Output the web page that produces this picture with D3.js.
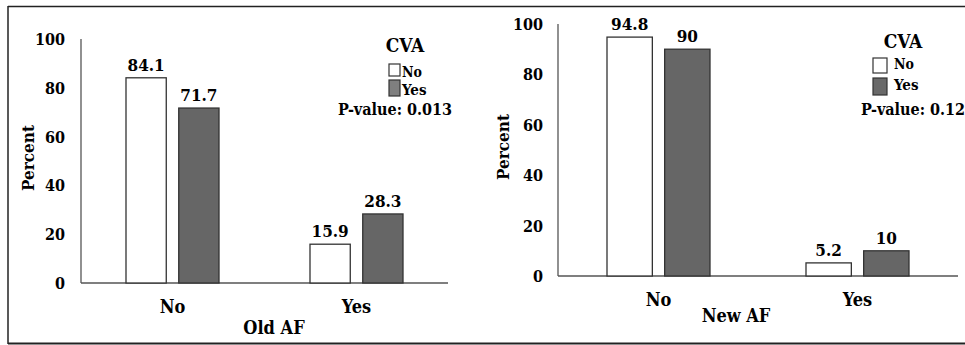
<!DOCTYPE html>
<html><head><meta charset="utf-8">
<script src="https://cdn.jsdelivr.net/npm/d3@7"></script>
<style>body{margin:0;background:#fff}svg{display:block}</style>
</head><body>
<script>
const categories = ["No", "Yes"];
const series = ["No", "Yes"];
const oldAF_no = [84.1, 15.9];
const oldAF_yes = [71.7, 28.3];
const newAF_no = [94.8, 5.2];
const newAF_yes = [90, 10];
const yTicks = [0, 20, 40, 60, 80, 100];
const titles = ["Old AF", "New AF"];
const pvalues = ["P-value: 0.013", "P-value: 0.12"];

const W = 965, H = 345;
const svg = d3.select("body").append("svg").attr("width", W).attr("height", H)
  .style("font-family", "'DejaVu Serif Condensed', 'DejaVu Serif', serif")
  .style("font-weight", "bold");

svg.append("line").attr("x1", 8).attr("x2", W).attr("y1", 6.5).attr("y2", 6.5).attr("stroke", "#222").attr("stroke-width", 1.5);
svg.append("line").attr("x1", 8).attr("x2", W).attr("y1", 343.5).attr("y2", 343.5).attr("stroke", "#222").attr("stroke-width", 2);
svg.append("line").attr("x1", 8).attr("x2", 8).attr("y1", 6).attr("y2", 344).attr("stroke", "#222").attr("stroke-width", 1.5);

const panels = [
  {no: oldAF_no, yes: oldAF_yes, x0: 81, x1: 448, y0: 283, y1: 39, band: [126, 403], bw: 41, gap: 11, tickX: 65, percentX: 34,
   catY: 313, titleY: 334, titleX: 274, cvaX: 405, cvaY: 52, boxX: 389, boxW: 11, box1Y: 64, box1H: 12, box2Y: 80, box2H: 16,
   legTextX: 402, leg1Y: 77, leg2Y: 95, legFont: 14, pX: 395, pY: 115, legGrey: "#7f7f7f"},
  {no: newAF_no, yes: newAF_yes, x0: 558, x1: 958, y0: 276, y1: 24, band: [607, 909], bw: 46, gap: 11, tickX: 543, percentX: 509,
   catY: 306, titleY: 322, titleX: 736, cvaX: 903, cvaY: 48, boxX: 873, boxW: 14, box1Y: 58, box1H: 15, box2Y: 78, box2H: 17,
   legTextX: 894, leg1Y: 69, leg2Y: 90, legFont: 14, pX: 913, pY: 115, legGrey: "#696969"}
];

panels.forEach((p, i) => {
  const g = svg.append("g");
  const y = d3.scaleLinear().domain([0, 100]).range([p.y0, p.y1]);
  const groupSpan = 2 * p.bw + p.gap;
  const xg = d3.scalePoint().domain(categories).range([p.band[0], p.band[1] - groupSpan]);
  const xsub = d3.scaleBand().domain(series).range([0, groupSpan]).paddingInner(p.gap / (groupSpan / 2)).paddingOuter(0);

  g.append("line").attr("x1", p.x0).attr("x2", p.x0).attr("y1", p.y1).attr("y2", p.y0).attr("stroke", "#555").attr("stroke-width", 1.3);
  g.append("line").attr("x1", p.x0).attr("x2", p.x1).attr("y1", p.y0).attr("y2", p.y0).attr("stroke", "#555").attr("stroke-width", 1.3);
  g.selectAll(".tick").data(yTicks).enter().append("text")
    .attr("x", p.tickX).attr("y", d => y(d) + 6).attr("text-anchor", "end").attr("font-size", 16).text(d => d);
  g.append("text").attr("transform", `translate(${p.percentX},${(p.y0 + p.y1) / 2 - 3}) rotate(-90)`)
    .attr("text-anchor", "middle").attr("font-size", 17).text("Percent");

  const data = categories.map((c, k) => [
    {c, s: "No", v: p.no[k]}, {c, s: "Yes", v: p.yes[k]}
  ]).flat();

  g.selectAll(".bar").data(data).enter().append("rect")
    .attr("x", d => xg(d.c) + xsub(d.s))
    .attr("width", xsub.bandwidth())
    .attr("y", d => y(d.v)).attr("height", d => y(0) - y(d.v))
    .attr("fill", d => d.s === "No" ? "#fff" : "#666")
    .attr("stroke", "#333").attr("stroke-width", 1.3);

  g.selectAll(".val").data(data).enter().append("text")
    .attr("x", d => xg(d.c) + xsub(d.s) + xsub.bandwidth() / 2)
    .attr("y", d => y(d.v) - 7).attr("text-anchor", "middle").attr("font-size", 17)
    .text(d => d.v);

  g.selectAll(".cat").data(categories).enter().append("text")
    .attr("x", c => xg(c) + groupSpan / 2).attr("y", p.catY).attr("text-anchor", "middle").attr("font-size", 18).text(c => c);
  g.append("text").attr("x", p.titleX).attr("y", p.titleY).attr("text-anchor", "middle").attr("font-size", 18).text(titles[i]);

  g.append("text").attr("x", p.cvaX).attr("y", p.cvaY).attr("text-anchor", "middle").attr("font-size", 19).text("CVA");
  g.append("rect").attr("x", p.boxX).attr("y", p.box1Y).attr("width", p.boxW).attr("height", p.box1H)
    .attr("fill", "#fff").attr("stroke", "#333").attr("stroke-width", 1.2);
  g.append("rect").attr("x", p.boxX).attr("y", p.box2Y).attr("width", p.boxW).attr("height", p.box2H)
    .attr("fill", p.legGrey).attr("stroke", "#333").attr("stroke-width", 1.2);
  g.append("text").attr("x", p.legTextX).attr("y", p.leg1Y).attr("font-size", p.legFont).text(series[0]);
  g.append("text").attr("x", p.legTextX).attr("y", p.leg2Y).attr("font-size", p.legFont + 1).text(series[1]);
  g.append("text").attr("x", p.pX).attr("y", p.pY).attr("text-anchor", "middle").attr("font-size", 16).text(pvalues[i]);
});
</script>
</body></html>
